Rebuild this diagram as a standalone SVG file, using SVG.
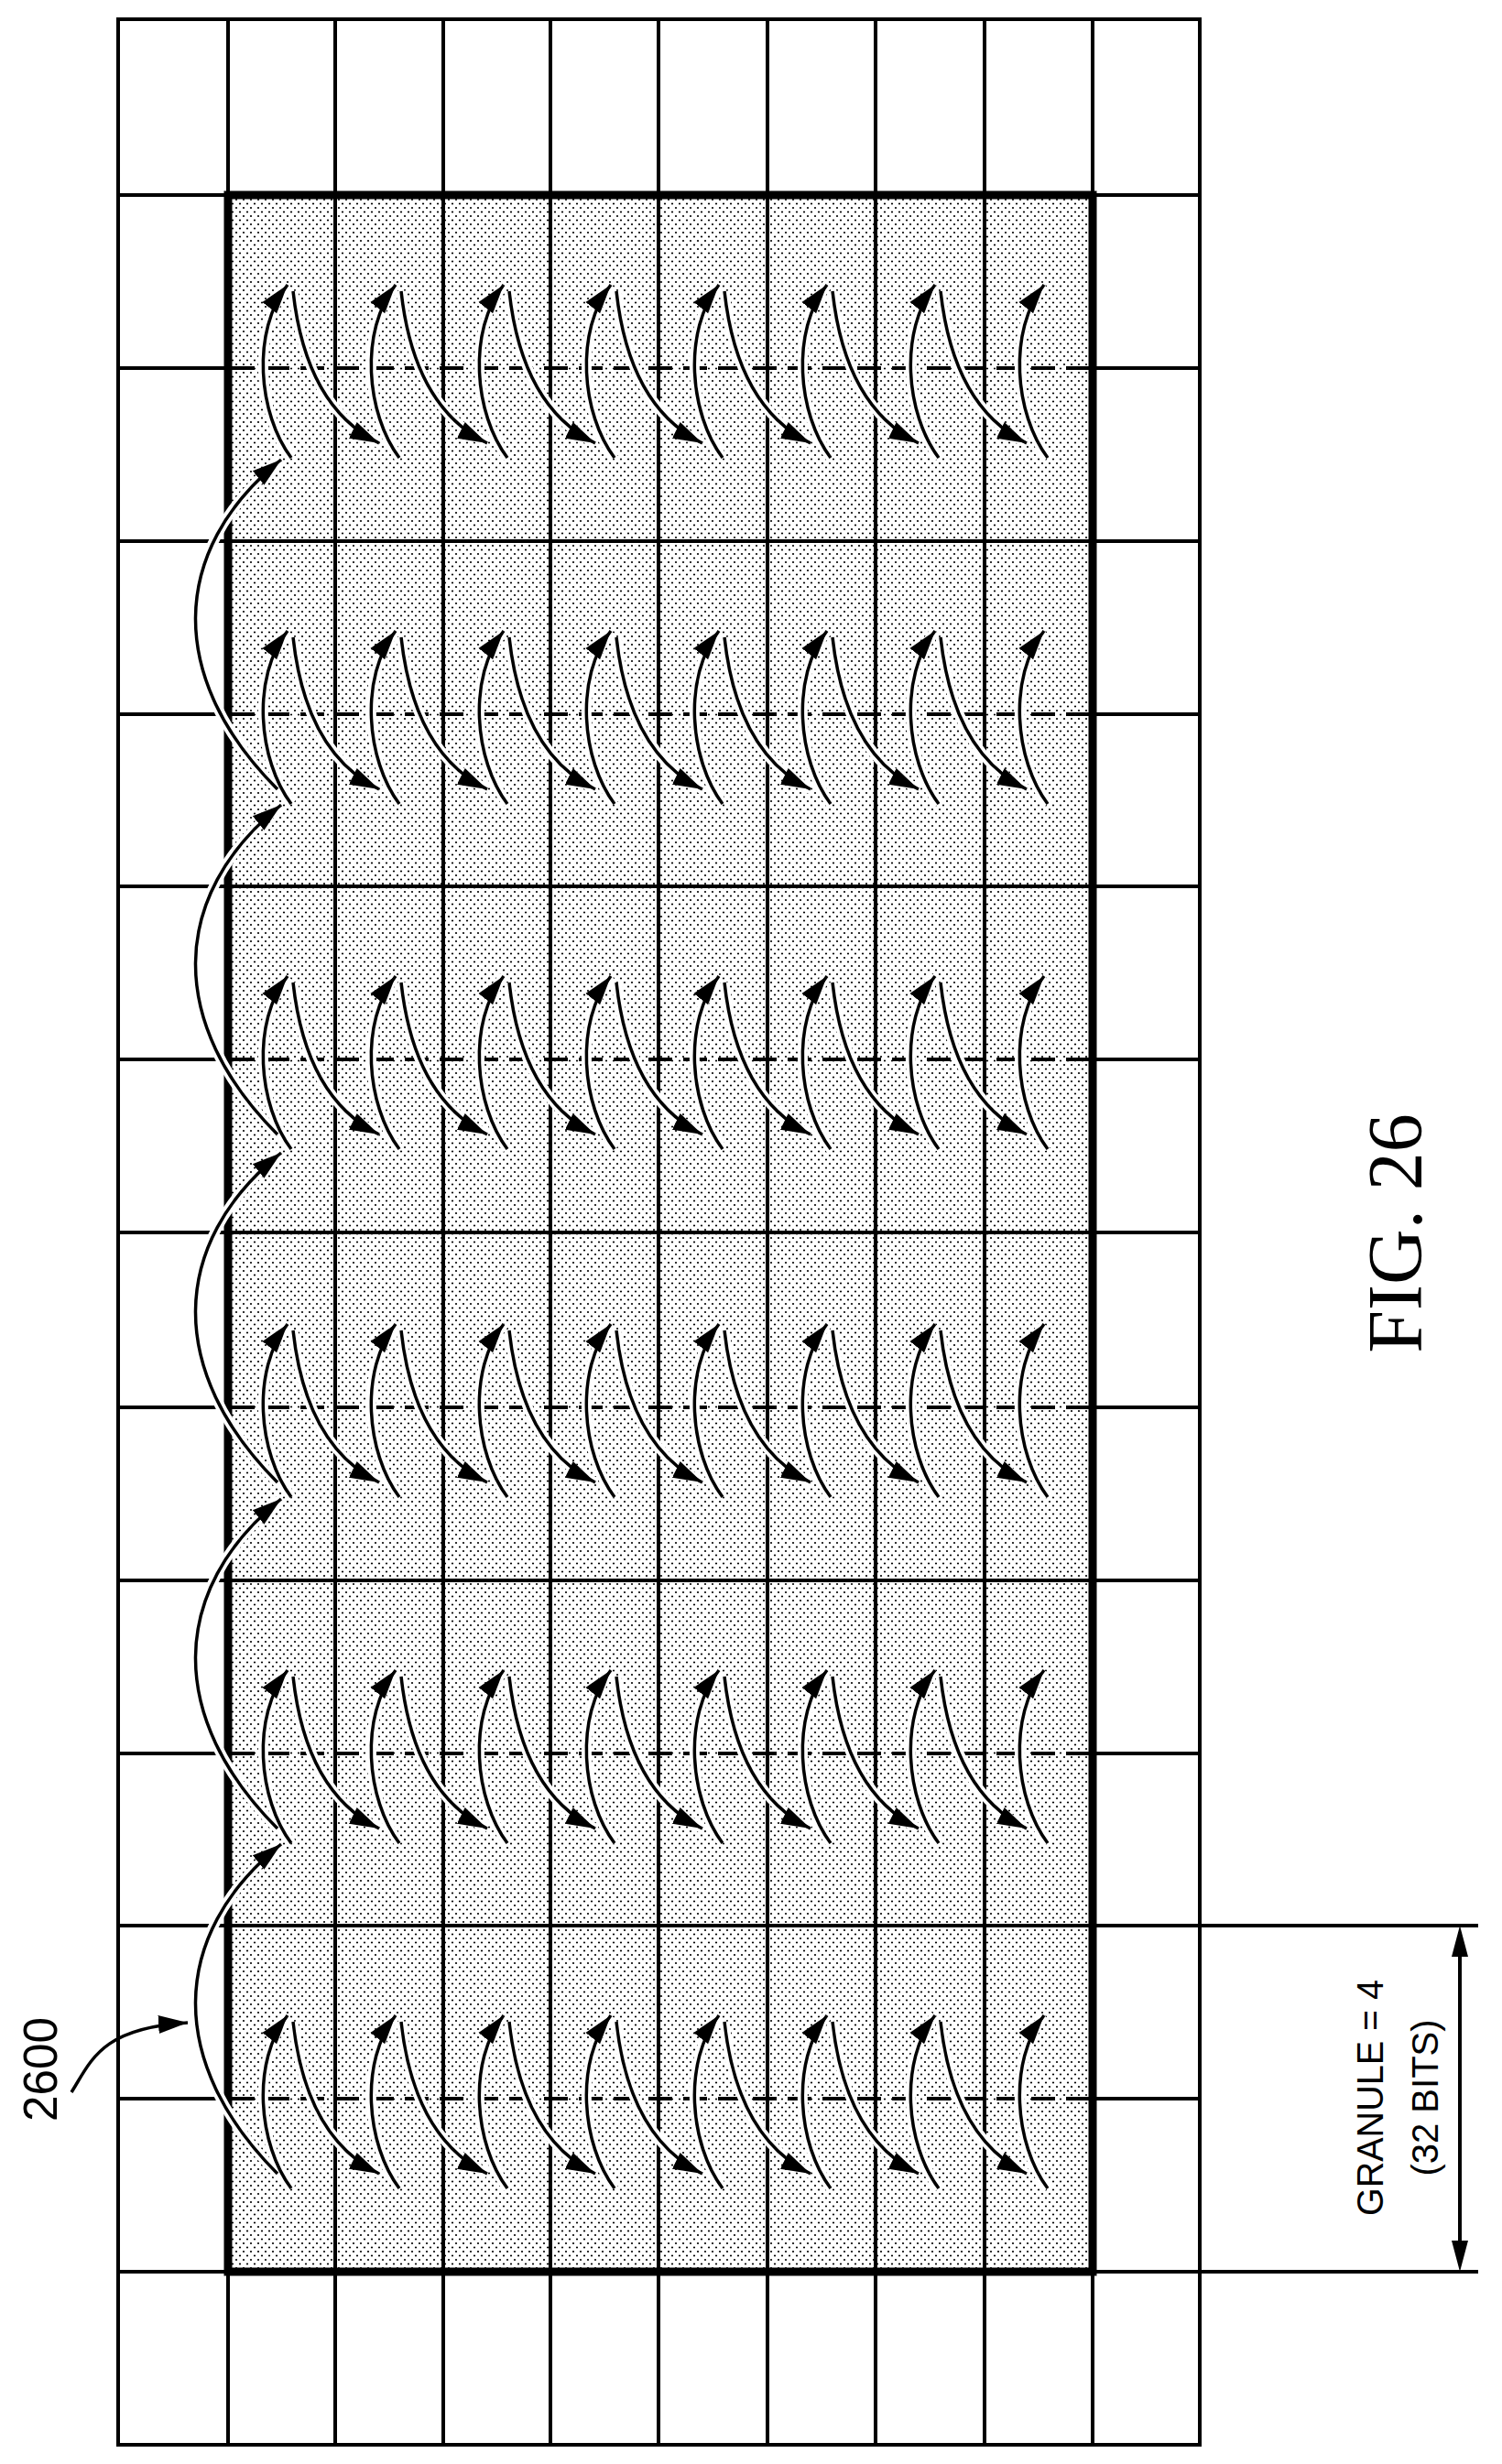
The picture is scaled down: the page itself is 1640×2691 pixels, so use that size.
<svg xmlns="http://www.w3.org/2000/svg" xmlns:xlink="http://www.w3.org/1999/xlink" width="1640" height="2691" viewBox="0 0 1640 2691">
<style>
.g{stroke:#000;stroke-width:4;fill:none}
.d{stroke:#000;stroke-width:4;fill:none;stroke-dasharray:26 12}
.a{stroke:#000;stroke-width:3.5;fill:none;marker-end:url(#ah)}
.h{stroke:#fff;stroke-width:11;fill:none}
.t{font-family:"Liberation Sans",Arial,sans-serif;fill:#000}
</style>
<defs>
<pattern id="dots" width="8" height="9" patternUnits="userSpaceOnUse">
<rect width="8" height="9" fill="#fff"/>
<circle cx="2" cy="2" r="1.1" fill="#000"/>
<circle cx="6" cy="6.5" r="1.1" fill="#000"/>
</pattern>
<marker id="ah" markerUnits="userSpaceOnUse" markerWidth="36" markerHeight="22" refX="32" refY="10" orient="auto" viewBox="0 0 36 20">
<path d="M0,0 L32,10 L0,20 Z" fill="#000"/>
</marker>
<path id="up" d="M69,98 C33,50 25,-40 65,-91"/>
<path id="dn" d="M71,-84 C78,-20 100,50 165,82"/>
<g id="hrow">
<use href="#up" x="0"/><use href="#dn" x="0"/>
<use href="#up" x="118"/><use href="#dn" x="118"/>
<use href="#up" x="236"/><use href="#dn" x="236"/>
<use href="#up" x="353"/><use href="#dn" x="353"/>
<use href="#up" x="471"/><use href="#dn" x="471"/>
<use href="#up" x="589"/><use href="#dn" x="589"/>
<use href="#up" x="707"/><use href="#dn" x="707"/>
<use href="#up" x="826"/>
</g>
<path id="big" d="M0,0 C-120,-120 -120,-260 4,-360"/>
</defs>

<rect x="249" y="213" width="944" height="2268" fill="url(#dots)"/>

<g id="grid">
<rect x="129" y="21" width="1181" height="2649" class="g" stroke-width="5"/>
<path class="g" d="M249,21V2670 M366,21V2670 M484,21V2670 M601,21V2670 M719,21V2670 M838,21V2670 M956,21V2670 M1075,21V2670 M1193,21V2670"/>
<path class="g" d="M129,213H1310 M129,2481H1310 M129,591H1310 M129,968H1310 M129,1346H1310 M129,1726H1310 M129,2103H1310"/>
<path class="g" d="M129,402H249 M1193,402H1310 M129,780H249 M1193,780H1310 M129,1157H249 M1193,1157H1310 M129,1537H249 M1193,1537H1310 M129,1915H249 M1193,1915H1310 M129,2292H249 M1193,2292H1310"/>
<path class="d" d="M252,402H1193 M252,780H1193 M252,1157H1193 M252,1537H1193 M252,1915H1193 M252,2292H1193"/>
<rect x="249" y="213" width="944" height="2268" fill="none" stroke="#000" stroke-width="9"/>
</g>

<g id="halos" class="h">
<use href="#hrow" transform="translate(249,402)"/>
<use href="#hrow" transform="translate(249,780)"/>
<use href="#hrow" transform="translate(249,1157)"/>
<use href="#hrow" transform="translate(249,1537)"/>
<use href="#hrow" transform="translate(249,1915)"/>
<use href="#hrow" transform="translate(249,2292)"/>
<use href="#big" transform="translate(303,862)"/>
<use href="#big" transform="translate(303,1239)"/>
<use href="#big" transform="translate(303,1619)"/>
<use href="#big" transform="translate(303,1997)"/>
<use href="#big" transform="translate(303,2374)"/>
</g>

<g id="connectors" class="a">
<use href="#hrow" transform="translate(249,402)"/>
<use href="#hrow" transform="translate(249,780)"/>
<use href="#hrow" transform="translate(249,1157)"/>
<use href="#hrow" transform="translate(249,1537)"/>
<use href="#hrow" transform="translate(249,1915)"/>
<use href="#hrow" transform="translate(249,2292)"/>
<use href="#big" transform="translate(303,862)"/>
<use href="#big" transform="translate(303,1239)"/>
<use href="#big" transform="translate(303,1619)"/>
<use href="#big" transform="translate(303,1997)"/>
<use href="#big" transform="translate(303,2374)"/>
<path class="a" d="M78,2285 C100,2250 110,2215 205,2209"/>
</g>

<g id="dimension">
<path class="g" d="M1310,2103H1614 M1310,2481H1614"/>
<path class="g" d="M1594,2110V2474"/>
<path d="M1594,2103 L1585,2137 L1603,2137 Z M1594,2481 L1585,2447 L1603,2447 Z" fill="#000"/>
</g>

<g id="labels">
<text class="t" transform="translate(62,2260) rotate(-90)" text-anchor="middle" font-size="52" textLength="114" lengthAdjust="spacingAndGlyphs">2600</text>
<text class="t" transform="translate(1510,2291) rotate(-90)" text-anchor="middle" font-size="40" textLength="258" lengthAdjust="spacingAndGlyphs">GRANULE = 4</text>
<text class="t" transform="translate(1570,2291) rotate(-90)" text-anchor="middle" font-size="40">(32 BITS)</text>
<text transform="translate(1552,1347) rotate(-90)" text-anchor="middle" font-size="84" font-family="'Liberation Serif','Times New Roman',serif">FIG. 26</text>
</g>
</svg>
